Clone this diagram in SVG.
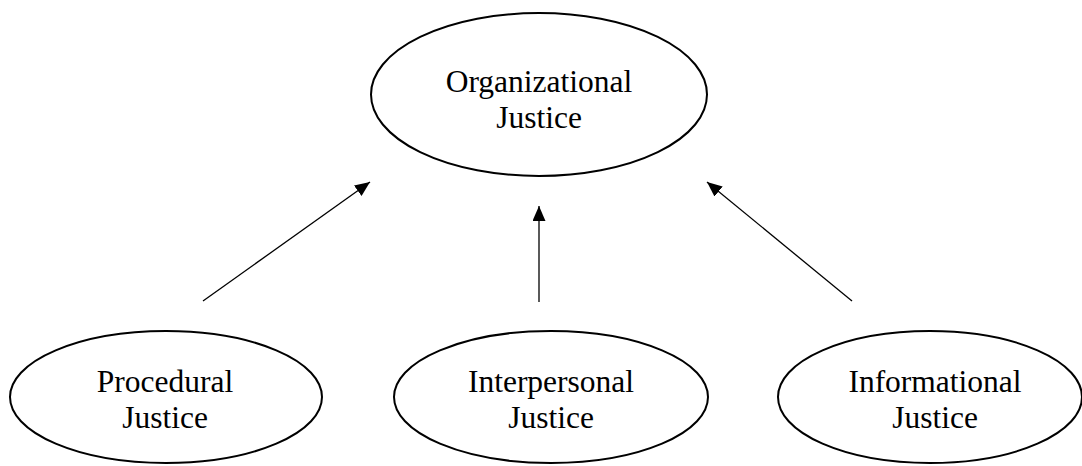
<svg xmlns="http://www.w3.org/2000/svg" width="1082" height="466" viewBox="0 0 1082 466">
<style>
.node ellipse{fill:#fff;stroke:#000;stroke-width:2}
.node text{font-family:"Liberation Serif","Times New Roman",serif;font-size:31.5px;fill:#000;text-anchor:middle}
.conn line{stroke:#000;stroke-width:1.3}
</style>
<defs>
<marker id="ah" viewBox="0 0 10 10" refX="10" refY="5" markerWidth="15" markerHeight="13" markerUnits="userSpaceOnUse" orient="auto" preserveAspectRatio="none">
<path d="M0,0 L10,5 L0,10 Z" fill="#000"/>
</marker>
</defs>
<rect width="1082" height="466" fill="#fff"/>
<g id="connectors" class="conn">
<line x1="203" y1="301" x2="370" y2="182" marker-end="url(#ah)"/>
<line x1="539" y1="302" x2="539" y2="206" marker-end="url(#ah)"/>
<line x1="852" y1="301" x2="707" y2="182" marker-end="url(#ah)"/>
</g>
<g id="organizational" class="node">
<ellipse cx="539" cy="94.5" rx="168" ry="81.5"/>
<text x="539" y="92">Organizational</text>
<text x="539" y="128">Justice</text>
</g>
<g id="procedural" class="node">
<ellipse cx="166" cy="397" rx="156" ry="66"/>
<text x="165" y="392">Procedural</text>
<text x="165" y="428">Justice</text>
</g>
<g id="interpersonal" class="node">
<ellipse cx="551" cy="397" rx="157" ry="66"/>
<text x="551" y="392">Interpersonal</text>
<text x="551" y="428">Justice</text>
</g>
<g id="informational" class="node">
<ellipse cx="930" cy="397" rx="152" ry="66"/>
<text x="935" y="392">Informational</text>
<text x="935" y="428">Justice</text>
</g>
</svg>
